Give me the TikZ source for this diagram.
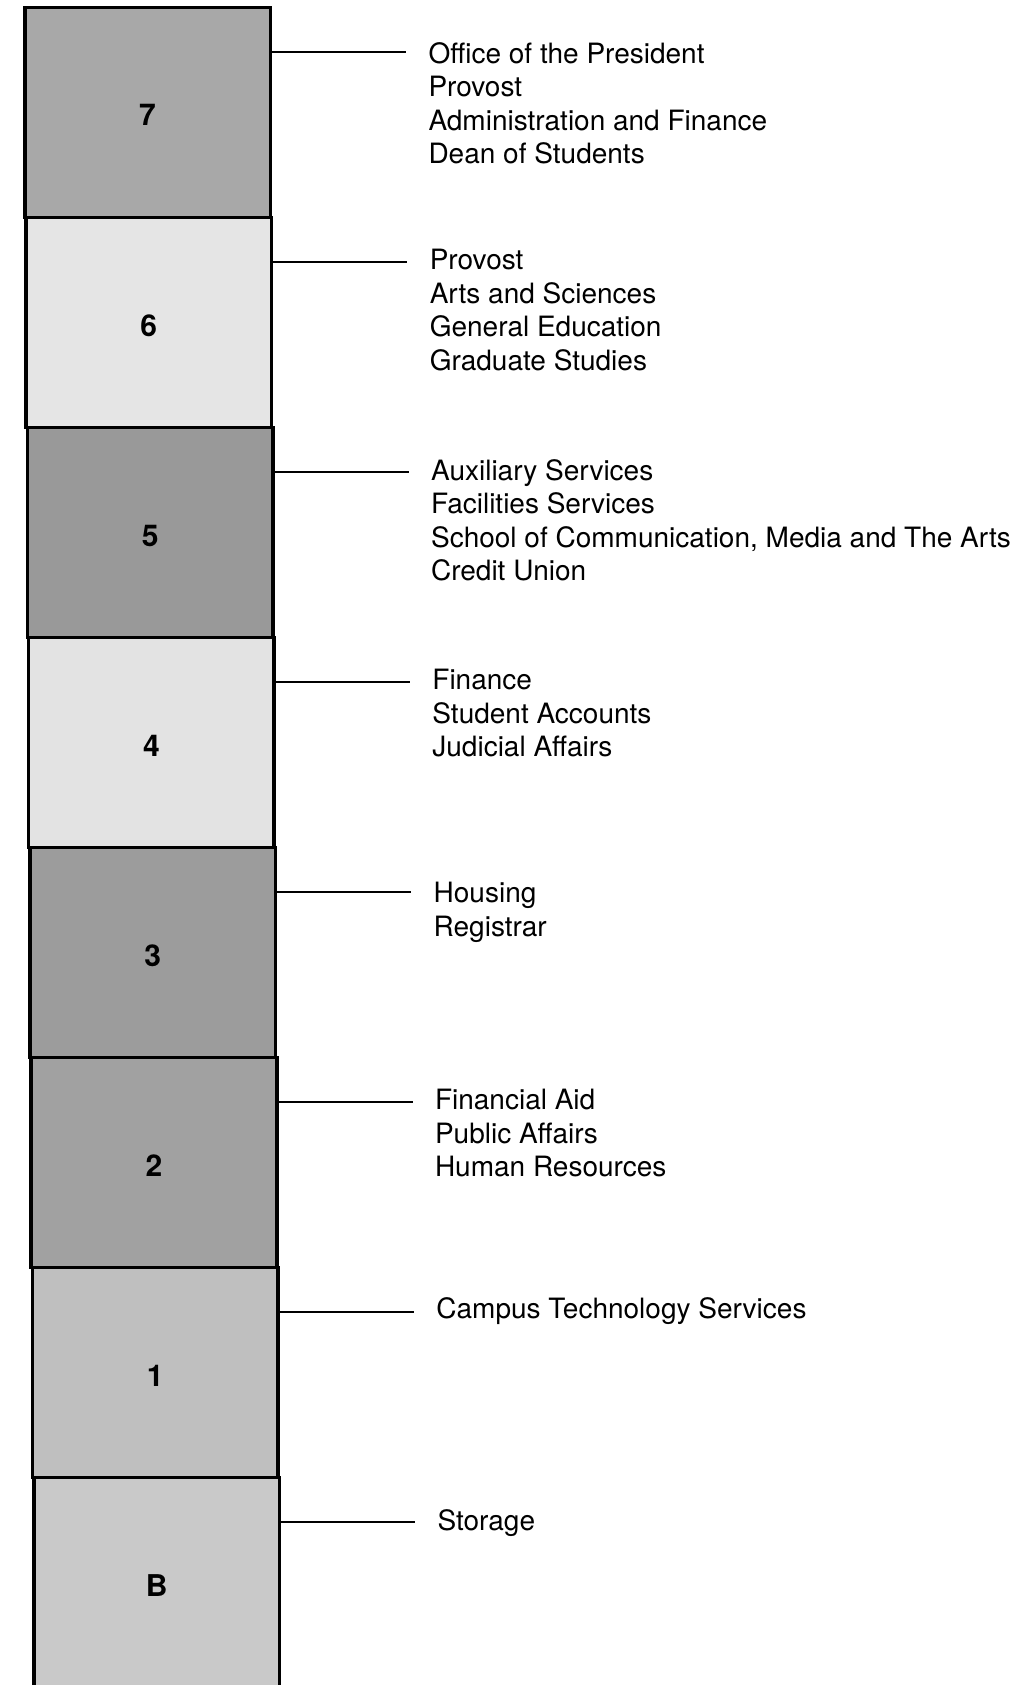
\documentclass[tikz,border=0pt]{standalone}
\usepackage{fontspec}
\setmainfont{TeX Gyre Heros}
\usetikzlibrary{positioning}
\definecolor{grayseven}{gray}{0.66}
\definecolor{graysix}{gray}{0.90}
\definecolor{grayfive}{gray}{0.60}
\definecolor{grayfour}{gray}{0.89}
\definecolor{graythree}{gray}{0.61}
\definecolor{graytwo}{gray}{0.63}
\definecolor{grayone}{gray}{0.75}
\definecolor{graybase}{gray}{0.79}
\tikzstyle{floor} = [rectangle, minimum width=122.8pt, minimum height=105pt, draw=black, line width=1.8pt, text height=13.5pt, text depth=0pt, font=\fontsize{15pt}{16pt}\selectfont\bfseries]
\tikzstyle{leader} = [line width=1pt]
\tikzstyle{names} = [align=left, inner sep=0pt, font=\fontsize{14pt}{16.75pt}\selectfont]

\begin{document}
\begin{tikzpicture}[node distance=105pt]
		\useasboundingbox (0,0) rectangle (510.5pt,-842.5pt);
		\node(f7) [floor, fill=grayseven] at (73.75pt,-56.25pt) {7};
		\node(f6) [floor, fill=graysix, below of=f7, xshift=0.65pt] {6};
		\node(f5) [floor, fill=grayfive, below of=f6, xshift=0.65pt] {5};
		\node(f4) [floor, fill=grayfour, below of=f5, xshift=0.65pt] {4};
		\node(f3) [floor, fill=graythree, below of=f4, xshift=0.65pt] {3};
		\node(f2) [floor, fill=graytwo, below of=f3, xshift=0.65pt] {2};
		\node(f1) [floor, fill=grayone, below of=f2, xshift=0.65pt] {1};
		\node(fb) [floor, fill=graybase, below of=f1, xshift=0.65pt] {B};
		\coordinate(c7) at ([xshift=67pt, yshift=-23pt]f7.north east);
		\coordinate(c6) at ([xshift=67pt, yshift=-23pt]f6.north east);
		\coordinate(c5) at ([xshift=67pt, yshift=-23pt]f5.north east);
		\coordinate(c4) at ([xshift=67pt, yshift=-23pt]f4.north east);
		\coordinate(c3) at ([xshift=67pt, yshift=-23pt]f3.north east);
		\coordinate(c2) at ([xshift=67pt, yshift=-23pt]f2.north east);
		\coordinate(c1) at ([xshift=67pt, yshift=-23pt]f1.north east);
		\coordinate(cb) at ([xshift=67pt, yshift=-23pt]fb.north east);
		\node(t7) [names, below right=-5pt and 11pt of c7] {Office of the President\\Provost\\Administration and Finance\\Dean of Students};
		\node(t6) [names, below right=-6.5pt and 11pt of c6] {Provost\\Arts and Sciences\\General Education\\Graduate Studies};
		\node(t5) [names, below right=-6.5pt and 11pt of c5] {Auxiliary Services\\Facilities Services\\School of Communication, Media and The Arts\\Credit Union};
		\node(t4) [names, below right=-6.5pt and 11pt of c4] {Finance\\Student Accounts\\Judicial Affairs};
		\node(t3) [names, below right=-5pt and 11pt of c3] {Housing\\Registrar};
		\node(t2) [names, below right=-6.5pt and 11pt of c2] {Financial Aid\\Public Affairs\\Human Resources};
		\node(t1) [names, below right=-7.5pt and 11pt of c1] {Campus Technology Services};
		\node(tb) [names, below right=-6.5pt and 11pt of cb] {Storage};
		\draw [leader] (f7.east |- c7) -- (c7);
		\draw [leader] (f6.east |- c6) -- (c6);
		\draw [leader] (f5.east |- c5) -- (c5);
		\draw [leader] (f4.east |- c4) -- (c4);
		\draw [leader] (f3.east |- c3) -- (c3);
		\draw [leader] (f2.east |- c2) -- (c2);
		\draw [leader] (f1.east |- c1) -- (c1);
		\draw [leader] (fb.east |- cb) -- (cb);
	\end{tikzpicture}
\end{document}
